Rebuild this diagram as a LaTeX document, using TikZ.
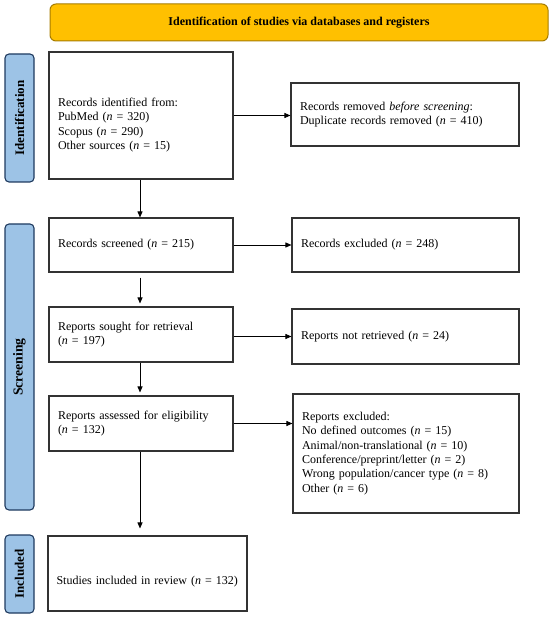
\documentclass[tikz,border=0pt]{standalone}
\usepackage{fontspec}
\setmainfont{Liberation Serif}
\usetikzlibrary{arrows.meta}
\definecolor{gold}{HTML}{FFC000}
\definecolor{golddark}{HTML}{A67C00}
\definecolor{lblue}{HTML}{9DC3E6}
\definecolor{navy}{HTML}{1F3A5F}
\definecolor{boxline}{HTML}{333333}
\begin{document}
\begin{tikzpicture}[x=1pt,y=-1pt,
  box/.style={draw=boxline,line width=1.1pt,fill=white,align=left,inner xsep=9pt,inner ysep=2pt,
    font=\fontsize{12}{14.3}\selectfont},
  phase/.style={draw=navy,line width=1.1pt,fill=lblue,rounded corners=4pt,rotate=90,
    minimum height=29pt,inner sep=0pt},
  arr/.style={-{Triangle[length=6pt,width=5pt]},line width=0.9pt,black}]
\useasboundingbox (0,0) rectangle (550,617);
\node[draw=golddark,line width=1pt,fill=gold,rounded corners=6pt,minimum width=498pt,minimum height=37pt,
  font=\fontsize{12}{14}\selectfont\bfseries] (banner) at (299,22.5) {Identification of studies via databases and registers};
\node[phase,minimum width=128pt,font=\fontsize{13}{15}\selectfont\bfseries] (pid) at (19.5,118) {Identification};
\node[phase,minimum width=286pt,font=\fontsize{13.7}{15}\selectfont\bfseries] (pscr) at (19.5,367) {Screening};
\node[phase,minimum width=78pt,font=\fontsize{13}{15}\selectfont\bfseries] (pinc) at (19.5,574) {Included};
\node[box,text width=166pt,minimum height=127pt] (b1) at (141,115.5) {\mbox{}\\[13.5pt]Records identified from:\\PubMed (\textit{n} = 320)\\Scopus (\textit{n} = 290)\\Other sources (\textit{n} = 15)};
\node[box,text width=210pt,minimum height=63pt] (r1) at (405,114.5) {Records removed \textit{before screening}:\\Duplicate records removed (\textit{n} = 410)};
\node[box,text width=166pt,minimum height=54pt] (b2) at (141,245) {Records screened (\textit{n} = 215)};
\node[box,text width=209pt,minimum height=54pt] (r2) at (405.5,245) {Records excluded (\textit{n} = 248)};
\node[box,text width=166pt,minimum height=55pt] (b3) at (141,334.5) {Reports sought for retrieval\\(\textit{n} = 197)};
\node[box,text width=209pt,minimum height=55pt] (r3) at (405.5,336.5) {Reports not retrieved (\textit{n} = 24)};
\node[box,text width=166pt,minimum height=55pt] (b4) at (141,423.5) {Reports assessed for eligibility\\(\textit{n} = 132)};
\node[box,text width=208pt,minimum height=119pt] (r4) at (406,453.5) {Reports excluded:\\No defined outcomes (\textit{n} = 15)\\Animal/non-translational (\textit{n} = 10)\\Conference/preprint/letter (\textit{n} = 2)\\Wrong population/cancer type (\textit{n} = 8)\\Other (\textit{n} = 6)};
\node[box,text width=192pt,inner xsep=3.5pt,minimum height=75pt] (b5) at (147.5,573.5) {\mbox{}\\[9.7pt]\hspace*{5pt}Studies included in review (\textit{n} = 132)};
\draw[arr] (b1.east) -- (r1.west |- b1.east);
\draw[arr] (b2.east) -- (r2.west);
\draw[arr] (b3.east |- r3.west) -- (r3.west);
\draw[arr] (b4.east) -- (r4.west |- b4.east);
\draw[arr] ([xshift=-1pt]b1.south) -- ([xshift=-1pt]b1.south |- b2.north);
\draw[arr] ([xshift=-1pt,yshift=-5pt]b2.south) -- ([xshift=-1pt,yshift=3pt]b2.south |- b3.north);
\draw[arr] ([xshift=-1pt]b3.south) -- ([xshift=-1pt,yshift=3pt]b3.south |- b4.north);
\draw[arr] ([xshift=-1pt]b4.south) -- ([xshift=-1pt,yshift=7pt]b4.south |- b5.north);
\end{tikzpicture}
\end{document}
